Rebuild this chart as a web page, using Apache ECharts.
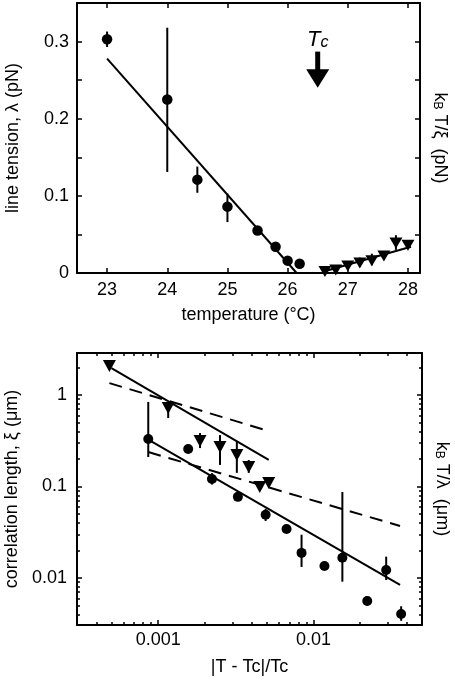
<!DOCTYPE html>
<html><head><meta charset="utf-8">
<script src="https://cdn.jsdelivr.net/npm/echarts@6/dist/echarts.min.js"></script>
<style>html,body{margin:0;padding:0;background:#fff}#c{width:455px;height:680px}</style>
</head><body><div id="c"></div>
<script>
// ---------- top panel: line tension vs temperature ----------
const tempCircle = [23, 24, 24.5, 25, 25.5, 25.8, 26, 26.2];
const tensionCircle = [0.303, 0.225, 0.121, 0.086, 0.055, 0.034, 0.016, 0.012];
const tensionErrT = [23, 24, 24.5, 25];
const tensionErrLo = [0.293, 0.131, 0.104, 0.066];
const tensionErrHi = [0.313, 0.318, 0.138, 0.103];
const tempTri = [26.62, 26.8, 27.0, 27.2, 27.4, 27.6, 27.8, 28.0];
const kTxiTri = [0.002, 0.004, 0.009, 0.013, 0.016, 0.022, 0.039, 0.036];
const kTxiErrT = [27.2, 27.4, 27.8];
const kTxiErrLo = [0.008, 0.01, 0.03];
const kTxiErrHi = [0.02, 0.025, 0.049];
const fitTensionT = [23, 26.15];
const fitTensionV = [0.278, 0];
const fitKTxiT = [26.6, 28.05];
const fitKTxiV = [0.002, 0.034];
const tcArrow = [26.5, 0.287, 0.264, 0.240]; // x, shaft top, head base, tip
const tempTicks = [23, 24, 25, 26, 27, 28];
const tensionTicks = [0, 0.05, 0.1, 0.15, 0.2, 0.25, 0.3];
const tensionLabels = [0, 0.1, 0.2, 0.3];

// ---------- bottom panel: correlation length vs reduced temperature ----------
const redTempCircle = [0.000863, 0.00156, 0.00222, 0.00326, 0.00492, 0.00671, 0.00838, 0.01177, 0.01535, 0.0222, 0.0294, 0.0367];
const xiCircle = [0.33, 0.257, 0.121, 0.077, 0.049, 0.0343, 0.0188, 0.0135, 0.0166, 0.0056, 0.0122, 0.00404];
const xiCircErrT = [0.000863, 0.00222, 0.00492, 0.00838, 0.01535, 0.0222, 0.0294, 0.0367];
const xiCircErrLo = [0.21, 0.105, 0.042, 0.0132, 0.0091, 0.0050, 0.0095, 0.0034];
const xiCircErrHi = [0.84, 0.14, 0.057, 0.0297, 0.087, 0.0063, 0.0171, 0.0049];
const redTempTri = [0.000485, 0.00116, 0.00186, 0.0025, 0.00321, 0.00383, 0.00451, 0.00515];
const xiTri = [2.07, 0.72, 0.314, 0.27, 0.221, 0.163, 0.099, 0.109];
const xiTriErrT = [0.00116, 0.00186, 0.0025, 0.00321, 0.00383];
const xiTriErrLo = [0.56, 0.263, 0.172, 0.141, 0.141];
const xiTriErrHi = [0.84, 0.384, 0.365, 0.306, 0.195];
const fitTriT = [0.0005, 0.00515];
const fitTriV = [1.97, 0.195];
const fitCircT = [0.000875, 0.0361];
const fitCircV = [0.322, 0.0084];
const dashUpT = [0.000485, 0.00515];
const dashUpV = [1.35, 0.404];
const dashLoT = [0.000863, 0.0361];
const dashLoV = [0.238, 0.037];
const redTempMajor = [0.001, 0.01];
const redTempMinor = [0.0004, 0.0005, 0.0006, 0.0007, 0.0008, 0.0009, 0.002, 0.003, 0.004, 0.005, 0.006, 0.007, 0.008, 0.009, 0.02, 0.03, 0.04];
const xiMajor = [0.01, 0.1, 1];
const xiMinor = [0.004, 0.005, 0.006, 0.007, 0.008, 0.009, 0.02, 0.03, 0.04, 0.05, 0.06, 0.07, 0.08, 0.09, 0.2, 0.3, 0.4, 0.5, 0.6, 0.7, 0.8, 0.9, 2];

const FONT = 'Liberation Sans';
const zip = (a, b) => a.map((v, i) => [v, b[i]]);
const zip3 = (a, b, c) => a.map((v, i) => [v, b[i], c[i]]);

function axis(o) {
  const base = {
    gridIndex: o.grid, type: o.type || 'value', position: o.position,
    min: o.min, max: o.max,
    axisLine: { show: o.line !== false, onZero: false, lineStyle: { color: '#000', width: 2 } },
    axisTick: { show: true, inside: true, length: o.tickLen || 5, customValues: o.ticks, lineStyle: { color: '#000', width: 1.5 } },
    axisLabel: o.labels ? { show: true, customValues: o.labels, margin: o.margin, color: '#000', fontFamily: FONT, fontSize: 18,
      formatter: v => String(+v.toPrecision(3)) } : { show: false },
    splitLine: { show: false }, minorTick: { show: false }
  };
  if (o.name) {
    base.name = o.name; base.nameLocation = 'middle'; base.nameGap = o.nameGap;
    base.nameRotate = o.nameRotate;
    base.nameTextStyle = Object.assign({ color: '#000', fontFamily: FONT, fontSize: 18 }, o.nameStyle || {});
  }
  return base;
}

function errSeries(xi, yi, data) {
  return {
    type: 'custom', xAxisIndex: xi, yAxisIndex: yi, data: data, encode: { x: 0, y: [1, 2] }, silent: true, z: 3,
    renderItem: (p, api) => {
      const a = api.coord([api.value(0), api.value(1)]);
      const b = api.coord([api.value(0), api.value(2)]);
      return { type: 'line', shape: { x1: a[0], y1: a[1], x2: b[0], y2: b[1] }, style: { stroke: '#000', lineWidth: 2 } };
    }
  };
}
function lineSeries(xi, yi, data, dashed) {
  return { type: 'line', xAxisIndex: xi, yAxisIndex: yi, data: data, symbol: 'none', silent: true, z: 2,
    lineStyle: { color: '#000', width: 2, type: dashed ? [13, 8] : 'solid' } };
}
function scatter(xi, yi, data, tri, size) {
  return { type: 'scatter', xAxisIndex: xi, yAxisIndex: yi, data: data, z: 4, silent: true,
    symbol: tri ? 'triangle' : 'circle', symbolRotate: tri ? 180 : 0, symbolSize: size,
    itemStyle: { color: '#000', opacity: 1 } };
}

const kbName = (q) => '{a|k}{b|B}{a| T/' + q + '  }{a|(' + (q === 'ξ' ? 'pN' : 'μm') + ')}';
const kbRich = { a: { fontSize: 18, fontFamily: FONT, color: '#000', lineHeight: 21, verticalAlign: 'bottom' },
                 b: { fontSize: 12, fontFamily: FONT, color: '#000', lineHeight: 12, verticalAlign: 'bottom' } };

const option = {
  animation: false,
  backgroundColor: '#fff',
  grid: [
    { left: 77, right: 35, top: 3, height: 270, outerBoundsMode: 'none', containLabel: false },
    { left: 77, right: 33, top: 353, height: 272, outerBoundsMode: 'none', containLabel: false }
  ],
  xAxis: [
    axis({ grid: 0, position: 'bottom', min: 22.5, max: 28.2, ticks: tempTicks, labels: tempTicks, margin: 8,
           name: 'temperature (°C)', nameGap: 33 }),
    axis({ grid: 0, position: 'top', min: 22.5, max: 28.2, ticks: tempTicks }),
    axis({ grid: 1, type: 'log', position: 'bottom', min: 0.0003, max: 0.05, ticks: redTempMajor, labels: redTempMajor, margin: 6,
           name: '|T - Tc|/Tc', nameGap: 33 }),
    axis({ grid: 1, type: 'log', position: 'top', min: 0.0003, max: 0.05, ticks: redTempMajor }),
    axis({ grid: 1, type: 'log', position: 'bottom', min: 0.0003, max: 0.05, ticks: redTempMinor, tickLen: 3, line: false }),
    axis({ grid: 1, type: 'log', position: 'top', min: 0.0003, max: 0.05, ticks: redTempMinor, tickLen: 3, line: false })
  ],
  yAxis: [
    axis({ grid: 0, position: 'left', min: 0, max: 0.35, ticks: tensionTicks, labels: tensionLabels, margin: 8,
           name: 'line tension, λ (pN)', nameGap: 55, nameRotate: 90 }),
    axis({ grid: 0, position: 'right', min: 0, max: 0.35, ticks: tensionTicks,
           name: kbName('ξ'), nameGap: 11, nameRotate: -90, nameStyle: { rich: kbRich } }),
    axis({ grid: 1, type: 'log', position: 'left', min: 0.00306, max: 2.88, ticks: xiMajor, labels: xiMajor, margin: 10,
           name: 'correlation length, ξ (μm)', nameGap: 55, nameRotate: 90 }),
    axis({ grid: 1, type: 'log', position: 'right', min: 0.00306, max: 2.88, ticks: xiMajor,
           name: kbName('λ'), nameGap: 11, nameRotate: -90, nameStyle: { rich: kbRich } }),
    axis({ grid: 1, type: 'log', position: 'left', min: 0.00306, max: 2.88, ticks: xiMinor, tickLen: 3, line: false }),
    axis({ grid: 1, type: 'log', position: 'right', min: 0.00306, max: 2.88, ticks: xiMinor, tickLen: 3, line: false })
  ],
  series: [
    // top panel
    lineSeries(0, 0, zip(fitTensionT, fitTensionV)),
    lineSeries(0, 0, zip(fitKTxiT, fitKTxiV)),
    errSeries(0, 0, zip3(tensionErrT, tensionErrLo, tensionErrHi)),
    errSeries(0, 0, zip3(kTxiErrT, kTxiErrLo, kTxiErrHi)),
    scatter(0, 0, zip(tempCircle, tensionCircle), false, 10.5),
    scatter(0, 0, zip(tempTri, kTxiTri), true, [13, 11]),
    {
      type: 'custom', xAxisIndex: 0, yAxisIndex: 0, data: [tcArrow], silent: true, z: 5,
      encode: { x: 0, y: [1, 2, 3] },
      renderItem: (p, api) => {
        const top = api.coord([api.value(0), api.value(1)]);
        const neck = api.coord([api.value(0), api.value(2)]);
        const tip = api.coord([api.value(0), api.value(3)]);
        return { type: 'group', children: [
          { type: 'rect', shape: { x: top[0] - 2.5, y: top[1], width: 5, height: neck[1] - top[1] + 1 }, style: { fill: '#000' } },
          { type: 'polygon', shape: { points: [[neck[0] - 11.5, neck[1]], [neck[0] + 11.5, neck[1]], [tip[0], tip[1]]] }, style: { fill: '#000' } },
          { type: 'text', x: top[0], y: top[1] - 1, style: {
              text: '{t|T}{c|c}', align: 'center', verticalAlign: 'bottom',
              rich: {
                t: { fontSize: 22, fontStyle: 'italic', fontFamily: FONT, fill: '#000', lineHeight: 24, verticalAlign: 'bottom' },
                c: { fontSize: 16, fontStyle: 'italic', fontFamily: FONT, fill: '#000', lineHeight: 12, verticalAlign: 'bottom' }
              } } }
        ] };
      }
    },
    // bottom panel
    lineSeries(2, 2, zip(fitTriT, fitTriV)),
    lineSeries(2, 2, zip(fitCircT, fitCircV)),
    lineSeries(2, 2, zip(dashUpT, dashUpV), true),
    lineSeries(2, 2, zip(dashLoT, dashLoV), true),
    errSeries(2, 2, zip3(xiCircErrT, xiCircErrLo, xiCircErrHi)),
    errSeries(2, 2, zip3(xiTriErrT, xiTriErrLo, xiTriErrHi)),
    scatter(2, 2, zip(redTempCircle, xiCircle), false, 10),
    scatter(2, 2, zip(redTempTri, xiTri), true, [13, 12])
  ]
};

const chart = echarts.init(document.getElementById('c'), null, { renderer: 'canvas' });
chart.setOption(option);
</script>
</body></html>
